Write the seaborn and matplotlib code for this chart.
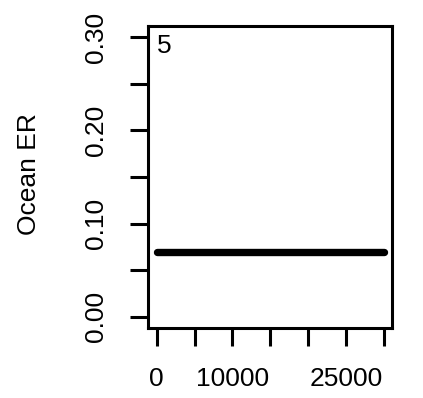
import matplotlib
matplotlib.use("Agg")
import matplotlib.pyplot as plt
import seaborn as sns
import pandas as pd

# data
x_vals = [0, 30000]
er_vals = [0.07, 0.07]
panel_label = "5"
y_label = "Ocean ER"
x_ticks = [0, 5000, 10000, 15000, 20000, 25000, 30000]
x_tick_labels = ["0", "", "10000", "", "", "25000", ""]
y_ticks = [0.0, 0.05, 0.10, 0.15, 0.20, 0.25, 0.30]
y_tick_labels = ["0.00", "", "0.10", "", "0.20", "", "0.30"]

sns.set_style("ticks")
plt.rcParams['font.family'] = ['Liberation Sans', 'DejaVu Sans']
plt.rcParams['text.color'] = 'black'

fig = plt.figure(figsize=(4.23, 3.98), dpi=100)
ax = fig.add_axes([148/423, 1-328/398, 244/423, 302/398])

df = pd.DataFrame({"x": x_vals, "er": er_vals})
sns.lineplot(data=df, x="x", y="er", ax=ax, color="black", linewidth=5.3,
             solid_capstyle="round")

ax.set_xlim(-1150, 31100)
ax.set_ylim(-0.012, 0.312)
ax.set_xticks(x_ticks)
ax.set_xticklabels(x_tick_labels)
ax.set_yticks(y_ticks)
ax.set_yticklabels(y_tick_labels, rotation=90, va="center")
ax.set_xlabel("")
ax.set_ylabel("")

for s in ax.spines.values():
    s.set_visible(True)
    s.set_linewidth(2.2)
    s.set_color("black")

ax.tick_params(axis="both", direction="out", length=13, width=2.2,
               labelsize=19, colors="black", labelcolor="black")
ax.tick_params(axis="x", pad=15)
ax.tick_params(axis="y", pad=16)

ax.text(0.037, 0.975, panel_label, transform=ax.transAxes, fontsize=19,
        ha="left", va="top", color="black")
fig.text(29/423, 1-174/398, y_label, rotation=90, ha="center", va="center",
         fontsize=19, color="black")

fig.savefig("out.png", dpi=100)
